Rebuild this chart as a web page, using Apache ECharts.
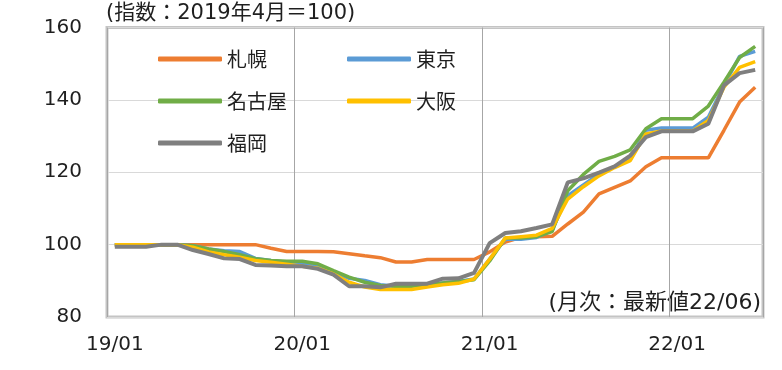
<!DOCTYPE html>
<html><head><meta charset="utf-8">
<script src="https://cdn.jsdelivr.net/npm/echarts@6/dist/echarts.min.js"></script>
<style>html,body{margin:0;padding:0;background:#fff}#c{width:782px;height:370px}</style>
</head><body><div id="c"></div>
<script>
const categories = [];
['19','20','21','22'].forEach(function(y){ for (let m = 1; m <= 12; m++) { categories.push(y + '/' + (m < 10 ? '0' + m : m)); } });
categories.length = 42; // 19/01 .. 22/06

const yTicks = [80, 100, 120, 140, 160];
const titleText = '(指数：2019年4月＝100)';
const noteText = '(月次：最新値22/06)';

const sapporo = [100,100,100,100,100,100,100,100,100,100,99,98.1,98.1,98.1,98,97.5,96.9,96.4,95.2,95.2,95.9,95.9,95.9,95.9,98,100.7,102,102.2,102.3,105.7,109,114,115.8,117.6,121.5,124,124,124,124,131.6,139.4,143.5];
const tokyo   = [100,100,100,100,100,99.7,98.8,98.3,98.1,96.2,95.6,95.1,94.7,94,92.4,90.7,90.1,88.9,88.5,88.7,88.9,89.4,89.8,90.5,96,101.5,101.5,102,104,113.5,116.5,119.5,121.5,123.5,131.6,132.2,132.2,132.2,135.2,144,152,153.4];
const nagoya  = [100,100,100,100,100,99.7,98.8,98.1,97.2,96.1,95.6,95.4,95.4,94.7,92.8,91,89.6,88.7,88.5,88.5,88.9,89.4,89.8,90.3,95.5,101.8,101.8,102.2,103.6,114.9,119.4,123,124.4,126.2,132,134.8,134.8,134.8,138.3,144.9,151.7,154.8];
const osaka   = [100,100,100,100,100,99.3,98,97.2,96.5,95.6,95.1,94.6,94,93.5,91.9,89.6,88.3,87.6,87.6,87.6,88.3,88.9,89.3,90.5,96,101.8,102.2,102.6,104.5,112.6,116,119,121.3,123.2,130.6,131.4,131.4,131.4,134.3,143.5,149,150.6];
const fukuoka = [99.4,99.4,99.4,100,100,98.5,97.4,96.2,96,94.4,94.2,94,94,93.3,91.7,88.5,88.5,88.2,89.2,89.2,89.2,90.6,90.7,92.2,100.4,103.2,103.7,104.6,105.6,117.2,118.3,119.9,121.6,124.6,129.7,131.3,131.3,131.3,133.4,144,147.4,148.3];

const names = ['札幌','東京','名古屋','大阪','福岡'];
const colors = ['#ED7D31','#5B9BD5','#70AD47','#FFC000','#7F7F7F'];
const values = [sapporo, tokyo, nagoya, osaka, fukuoka];

const FONT = '"DejaVu Sans", "Noto Sans CJK JP", sans-serif';
const CJK = '"Noto Sans CJK JP", "Noto Sans", sans-serif';
const TXT = '#1f1f1f';
const chart = echarts.init(document.getElementById('c'), null, {renderer: 'canvas'});
const legendCommon = {
  orient: 'vertical', icon: 'roundRect', itemWidth: 64, itemHeight: 5, itemGap: 20,
  textStyle: {fontFamily: CJK, fontSize: 20, color: TXT, lineHeight: 22, padding: [0,0,0,0]},
  padding: 0, selectedMode: false
};
chart.setOption({
  animation: false,
  color: colors,
  graphic: [
    {type: 'text', left: 106, top: 3,
      style: {text: titleText, font: '21px ' + FONT, fill: TXT}},
    {type: 'text', right: 21, top: 292,
      style: {text: noteText, font: '22px ' + FONT, fill: TXT}}
  ],
  legend: [
    Object.assign({}, legendCommon, {left: 158, top: 48, data: ['札幌','名古屋','福岡']}),
    Object.assign({}, legendCommon, {left: 347, top: 48, data: ['東京','大阪']})
  ],
  grid: {left: 107, right: 19, top: 27.5, bottom: 53, show: true, borderColor: '#c4c4c4', borderWidth: 3, containLabel: false},
  xAxis: {
    type: 'category', data: categories, boundaryGap: true,
    axisLine: {show: false}, axisTick: {show: false},
    axisLabel: {interval: function(i){ return i % 12 === 0; }, margin: 18,
      fontFamily: FONT, fontSize: 20, color: TXT},
    splitLine: {show: true, interval: function(i){ return i % 12 === 0; }, lineStyle: {color: '#a6a6a6', width: 1}}
  },
  yAxis: {
    type: 'value', min: yTicks[0], max: yTicks[yTicks.length-1], interval: 20,
    axisLine: {show: false}, axisTick: {show: false},
    axisLabel: {margin: 25, fontFamily: FONT, fontSize: 20, color: TXT},
    splitLine: {show: true, lineStyle: {color: '#d9d9d9', width: 1}}
  },
  series: names.map(function(n, k){
    return {name: n, type: 'line', data: values[k], showSymbol: false, symbol: 'none',
      lineStyle: {width: k === 4 ? 4 : 3.5, color: colors[k]}, itemStyle: {color: colors[k]}, z: 2 + k};
  })
});
</script></body></html>
